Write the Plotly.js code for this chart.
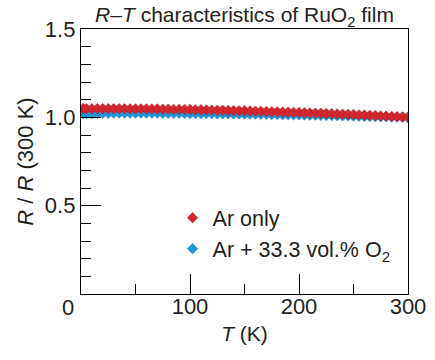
<!DOCTYPE html>
<html>
<head>
<meta charset="utf-8">
<script src="https://cdn.plot.ly/plotly-3.0.1.min.js"></script>
<style>html,body{margin:0;padding:0;background:#fff;}#chart{width:435px;height:360px;}</style>
</head>
<body>
<div id="chart"></div>
<script>
// Temperature (K)
const temperature = [2,5,10,15,20,25,30,35,40,45,50,55,60,65,70,75,80,85,90,95,100,105,110,115,120,125,130,135,140,145,150,155,160,165,170,175,180,185,190,195,200,205,210,215,220,225,230,235,240,245,250,255,260,265,270,275,280,285,290,295,300];
// R/R(300 K), Ar only
const arOnly = [1.050,1.049,1.049,1.049,1.049,1.049,1.049,1.049,1.049,1.048,1.048,1.048,1.048,1.047,1.047,1.046,1.046,1.045,1.045,1.044,1.044,1.043,1.043,1.042,1.041,1.040,1.040,1.039,1.038,1.037,1.037,1.036,1.035,1.034,1.033,1.032,1.031,1.030,1.029,1.028,1.027,1.026,1.025,1.024,1.023,1.022,1.021,1.019,1.018,1.017,1.016,1.014,1.013,1.011,1.010,1.008,1.007,1.005,1.004,1.002,1.000];
// R/R(300 K), Ar + 33.3 vol.% O2
const arO2 = [1.020,1.021,1.022,1.022,1.023,1.023,1.024,1.024,1.024,1.024,1.024,1.024,1.024,1.024,1.024,1.023,1.023,1.023,1.023,1.022,1.022,1.022,1.021,1.021,1.021,1.020,1.020,1.020,1.019,1.019,1.019,1.018,1.018,1.017,1.017,1.016,1.016,1.015,1.015,1.014,1.014,1.013,1.012,1.012,1.011,1.010,1.010,1.009,1.008,1.008,1.007,1.006,1.005,1.005,1.004,1.003,1.003,1.002,1.001,1.001,1.000];
const seriesNames = ['Ar only', 'Ar + 33.3 vol.% O<sub>2</sub>'];
const xTicks = [0, 100, 200, 300];
const xTickText = ['', '100', '200', '300'];
const yTicks = [0, 0.5, 1.0, 1.5];
const yTickText = ['', '0.5', '1.0', '1.5'];
const originLabel = '0';

const FONT = 'Liberation Sans, Arial, Helvetica, sans-serif';
const TXT = '#231f20';

const traces = [
  {
    x: temperature, y: arO2, name: seriesNames[1], type: 'scatter', mode: 'markers',
    legendrank: 2,
    marker: {symbol: 'diamond', size: 8, color: '#1f96d6', line: {color: '#1a78bb', width: 0.6}}
  },
  {
    x: temperature, y: arOnly, name: seriesNames[0], type: 'scatter', mode: 'markers',
    legendrank: 1,
    marker: {symbol: 'diamond', size: 8, color: '#d4262e', line: {color: '#ad1e27', width: 0.6}}
  }
];

const layout = {
  width: 435, height: 360,
  margin: {l: 81, r: 27, t: 29, b: 66},
  paper_bgcolor: '#fff', plot_bgcolor: '#fff',
  font: {family: FONT, color: TXT, size: 20},
  title: {
    text: '<i>R</i>–<i>T</i> characteristics of RuO<sub>2</sub> film',
    font: {family: FONT, size: 21, color: TXT},
    x: 0.5, xref: 'paper', xanchor: 'center', y: 0.958, yref: 'container', yanchor: 'middle'
  },
  showlegend: true,
  legend: {
    x: 0.28, xanchor: 'left', y: 0.365, yanchor: 'top',
    bgcolor: 'rgba(0,0,0,0)', borderwidth: 0,
    font: {family: FONT, size: 21.5, color: TXT},
    itemsizing: 'trace'
  },
  annotations: [
    {text: originLabel, xref: 'paper', yref: 'paper', x: -0.04, y: -0.05, xanchor: 'center', yanchor: 'middle',
     showarrow: false, font: {family: FONT, size: 22, color: TXT}}
  ],
  xaxis: {
    range: [0, 300], tickvals: xTicks, ticktext: xTickText,
    ticks: 'inside', ticklen: 20, tickwidth: 1, tickcolor: '#000',
    minor: {dtick: 50, tick0: 0, ticks: 'inside', ticklen: 10, tickwidth: 1, tickcolor: '#000'},
    showline: true, linecolor: '#000', linewidth: 1.2, mirror: true,
    showgrid: false, zeroline: false,
    ticklabelstandoff: -8,
    tickfont: {family: FONT, size: 22, color: TXT},
    title: {text: '<i>T</i> (K)', font: {family: FONT, size: 21, color: TXT}, standoff: 8}
  },
  yaxis: {
    range: [0, 1.5], tickvals: yTicks, ticktext: yTickText,
    ticks: 'inside', ticklen: 20, tickwidth: 1, tickcolor: '#000',
    minor: {dtick: 0.1, tick0: 0, ticks: 'inside', ticklen: 10, tickwidth: 1, tickcolor: '#000'},
    showline: true, linecolor: '#000', linewidth: 1.2, mirror: true,
    showgrid: false, zeroline: false,
    tickfont: {family: FONT, size: 22, color: TXT},
    title: {text: '<i>R</i> / <i>R</i> (300 K)', font: {family: FONT, size: 22, color: TXT}, standoff: 5}
  }
};

Plotly.newPlot('chart', traces, layout, {displayModeBar: false, staticPlot: true});
</script>
</body>
</html>
